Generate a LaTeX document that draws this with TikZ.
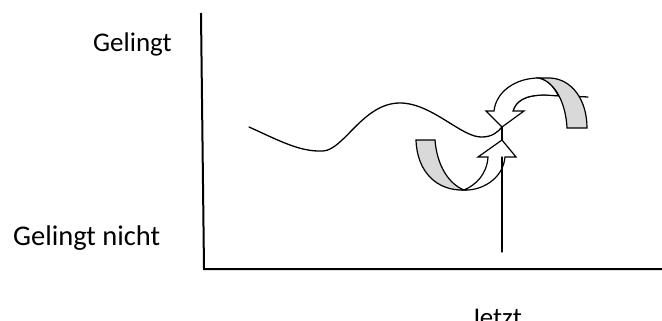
\documentclass[tikz,border=0pt]{standalone}
\usepackage{fontspec}
\setmainfont{Carlito}
\usepackage{tikz}
\usetikzlibrary{positioning}
\definecolor{bandgray}{HTML}{D9D9D9}

\begin{document}
\begin{tikzpicture}[
  x=1pt,y=-1pt,
  lbl/.style={inner sep=0pt,anchor=base west,font=\fontsize{27}{32}\selectfont},
  axis/.style={line width=2pt,line cap=rect},
  wave/.style={line width=1.3pt,line cap=round},
  arrowbody/.style={draw,fill=white,line width=1.2pt,line join=miter},
  band/.style={draw,fill=bandgray,line width=1.2pt,line join=miter},
]
\useasboundingbox (0,0) rectangle (662,321);

% ---- Labels
\node[lbl] (good)  at (93,52)  {Gelingt};
\node[lbl,font=\fontsize{28.5}{34}\selectfont] (bad) at (13,245) {Gelingt nicht};
\node[lbl] (now)   at (471,326) {Jetzt};

% ---- Axes
\coordinate (ytop)   at (201,14);
\coordinate (origin) at (204,269);
\coordinate (xend)   at (663,269);
\draw[axis] (ytop) -- (origin) -- (xend);

% ---- Course
\coordinate (start) at (249,127);
\coordinate (tip)   at (502,127);
\coordinate (stop)  at (588,97);
\draw[wave] (start) .. controls (280,141) and (300,152) .. (323,151)
                    .. controls (344,150) and (363,103) .. (400,103)
                    .. controls (432,103) and (462,138) .. (482,137)
                    .. controls (492,137) and (498,132) .. (tip)
                    .. controls (506,121) and (510,116) .. (513,111)
                    .. controls (516,101) and (525,95) .. (545,95) -- (stop);

% ---- Upper curved arrow
\draw[arrowbody] (539,78) .. controls (515,78) and (496,92) .. (494,111)
                 -- (486,111) -- (tip) -- (524,111) -- (513,111)
                 .. controls (516,101) and (525,95) .. (545,95) -- (558.4,95.9)
                 .. controls (554,87) and (548,80) .. (539,78) -- cycle;
\draw[band] (539,78) -- (550,78) .. controls (572,79) and (587,100) .. (587,128)
            -- (567,128) .. controls (566,105) and (556,82) .. (539,78) -- cycle;

% ---- Lower curved arrow
\coordinate (tiplow) at (502,140);
\draw[arrowbody] (464,190) .. controls (480,191) and (503,180) .. (505,157)
                 -- (516,157) -- (tiplow) -- (478,157) -- (488,157)
                 .. controls (487,174) and (476,185) .. (464,190) -- cycle;
\draw[band] (416,140) -- (435,140) .. controls (437,166) and (449,184) .. (464,190)
            .. controls (437,191) and (417,172) .. (416,140) -- cycle;

% ---- Now line
\coordinate (nowbase) at (502,252);
\draw[wave] (tip) -- (tiplow);
\draw[wave] (502,157) -- (nowbase);

\end{tikzpicture}
\end{document}
